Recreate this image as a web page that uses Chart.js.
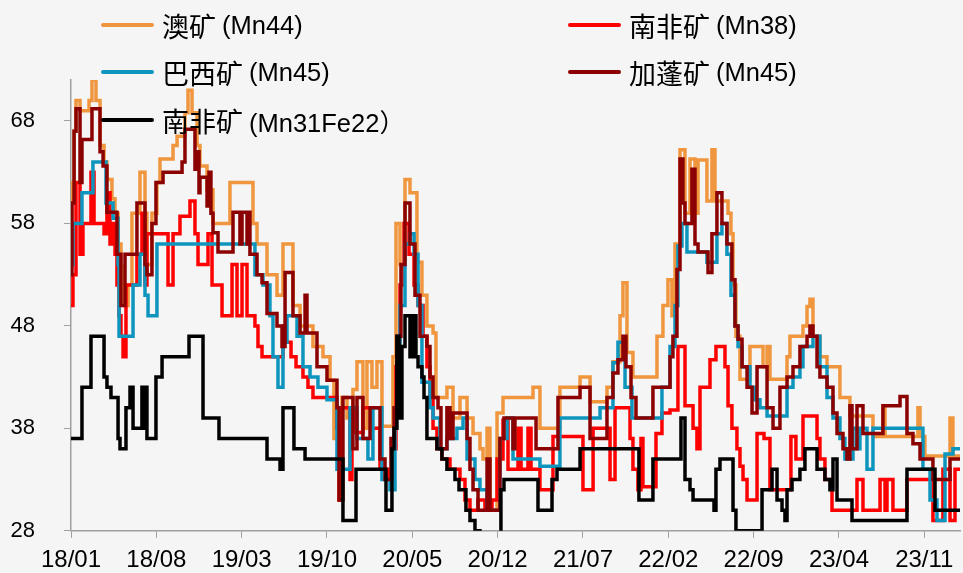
<!DOCTYPE html>
<html>
<head>
<meta charset="utf-8">
<script src="https://cdn.jsdelivr.net/npm/chart.js@4.4.1/dist/chart.umd.min.js"></script>
<style>
    html, body { margin: 0; padding: 0; background: #f5f5f5; }
    #wrap { position: relative; width: 963px; height: 573px; }
    #legend .item {
        position: absolute;
        display: flex;
        align-items: center;
        height: 32px;
        color: #000;
        white-space: nowrap;
    }
    #legend .swatch { width: 53px; height: 4px; border-radius: 2px; margin-right: 8px; }
    #legend .name { font-family: 'Noto Sans CJK SC', sans-serif; font-size: 27px; margin-right: 6px; }
    #legend .spec { font-family: 'Liberation Sans', 'Noto Sans CJK SC', sans-serif; font-size: 25.5px; }
</style>
</head>
<body>
<div id="wrap">
    <canvas id="priceChart" width="963" height="573"></canvas>
    <div id="legend"></div>
</div>
<script>
// x values are months since Jan 2018, each pair = [month, price] where the price changes
const X_MAX = 72.93;
const xTickLabels = ['18/01', '18/08', '19/03', '19/10', '20/05', '20/12', '21/07', '22/02', '22/09', '23/04', '23/11'];
const yTicks = [28, 38, 48, 58, 68];

const seriesNames = ['澳矿(Mn44)', '南非矿(Mn38)', '巴西矿(Mn45)', '加蓬矿(Mn45)', '南非矿(Mn31Fe22）'];
const seriesColors = ['#F0963E', '#FF0000', '#0E95BD', '#8B0000', '#000000'];

const ausSteps = [
    [0, 56], [0.08, 62], [0.25, 67], [0.41, 70], [0.74, 69], [1.48, 70], [1.72, 72], [2.05, 70], [2.38, 65.6], [2.71, 64],
    [2.95, 62.3], [3.36, 60.4], [3.61, 59], [3.86, 56], [4.10, 53.8], [4.35, 50], [4.68, 52], [5.00, 59], [5.66, 63], [6.07, 59],
    [6.23, 54], [6.64, 59], [7.05, 62], [7.30, 64.3], [8.37, 65.6], [8.70, 66.5], [9.35, 68.8], [9.60, 71], [9.93, 68.8], [10.34, 65.6],
    [10.58, 63.6], [11.16, 61.3], [11.65, 58], [13.04, 62], [14.93, 58], [15.26, 56], [16.08, 53], [16.90, 51], [17.39, 56], [18.21, 50],
    [18.79, 48], [19.85, 46], [20.67, 45], [21.25, 42.7], [21.57, 37], [21.90, 35], [22.23, 41], [22.64, 39], [23.13, 41.8], [23.46, 44.5],
    [23.95, 38], [24.28, 44.5], [24.69, 42], [25.10, 44.5], [25.51, 38.2], [26.41, 45], [26.66, 58], [26.99, 54], [27.40, 62.3], [27.81, 61],
    [28.38, 54.2], [28.79, 51], [29.20, 48], [29.70, 47.3], [29.94, 41], [30.84, 42], [31.34, 39], [31.91, 41], [32.49, 39], [32.98, 37.5],
    [33.55, 36], [33.80, 35], [34.13, 38], [34.37, 30], [34.95, 39.5], [35.44, 41], [37.90, 42], [38.47, 38], [40.11, 42], [41.76, 43],
    [42.58, 40.6], [43.97, 42], [44.46, 44.5], [45.04, 49], [45.28, 52.2], [45.61, 45.4], [46.10, 43], [48.07, 47], [48.56, 50], [48.97, 52.5],
    [49.30, 49], [49.55, 56], [49.96, 65.2], [50.37, 59], [50.78, 64.3], [51.19, 59], [51.44, 64.2], [52.17, 60.2], [52.58, 65.2], [52.83, 60.2],
    [53.90, 59], [54.14, 57], [54.31, 52], [54.55, 47], [54.88, 42.8], [55.70, 46], [56.77, 44], [57.10, 46], [57.34, 42.8], [58.74, 45],
    [58.98, 47], [60.05, 48], [60.38, 49.9], [60.62, 50.6], [60.87, 47], [61.44, 45], [62.02, 44], [63.08, 41], [63.90, 39.2],
    [65.79, 37.2], [66.61, 40.2], [66.78, 37.2], [69.48, 40], [69.65, 37.2], [70.05, 35.3], [72.11, 39], [72.35, 35.3]
];

const sa38Steps = [
    [0, 50], [0.16, 53], [0.41, 62], [0.74, 55], [0.98, 58], [1.64, 63], [1.89, 58], [2.71, 57], [2.95, 61], [3.20, 56],
    [3.45, 58], [3.61, 55], [3.77, 52], [3.94, 49], [4.10, 47], [4.27, 45], [4.51, 52], [5.41, 55], [5.82, 59], [6.07, 52],
    [6.23, 57], [7.96, 52], [8.37, 57], [8.94, 58.7], [9.76, 60.2], [10.17, 57], [10.42, 54], [11.24, 57], [11.57, 52], [12.39, 49],
    [13.21, 54], [13.62, 49], [14.03, 54], [14.44, 49], [15.09, 48], [15.34, 46], [15.67, 45], [17.39, 48], [17.64, 46.4], [18.05, 45],
    [18.46, 44], [19.03, 43], [19.44, 42], [19.85, 41], [21.82, 38], [21.99, 31], [22.23, 40], [22.89, 33], [23.05, 40], [23.30, 37.6],
    [23.95, 40], [24.69, 38], [25.35, 34], [26.00, 33], [26.41, 36], [26.66, 44], [26.99, 52], [27.32, 58], [27.73, 55], [28.14, 52],
    [28.47, 50], [28.88, 47], [29.20, 44], [29.45, 41], [29.70, 38], [30.02, 36], [30.43, 35], [31.09, 34], [31.91, 33], [32.32, 31],
    [32.73, 30], [33.39, 31], [33.96, 30], [34.54, 31], [34.95, 35], [35.44, 38.8], [35.85, 34], [36.67, 38], [36.92, 34], [37.49, 38],
    [37.74, 34], [38.47, 32], [39.54, 37.2], [42.00, 32], [42.83, 38], [44.22, 33], [44.63, 40], [45.86, 37], [46.10, 34], [46.51, 32],
    [46.76, 37], [46.92, 32.3], [47.99, 37.5], [48.48, 39.5], [49.14, 39.8], [49.79, 46], [50.37, 40.2], [51.03, 38], [51.35, 36], [51.60, 42],
    [52.42, 44.7], [52.91, 46], [53.65, 44], [53.90, 40.2], [54.22, 38], [54.63, 36], [54.88, 34.3], [55.13, 33], [55.46, 31], [56.28, 37.5],
    [56.85, 37], [57.34, 32], [59.06, 37.2], [59.47, 35], [60.05, 39.2], [61.20, 37], [61.44, 35], [61.85, 33], [62.43, 30], [64.48, 33],
    [64.97, 30], [66.37, 33], [66.78, 30], [66.94, 33], [67.43, 30], [68.58, 33], [70.71, 29], [71.53, 34], [72.11, 29], [72.52, 34]
];

const brSteps = [
    [0, 54], [0.16, 58], [0.90, 61], [1.80, 64], [2.87, 60], [3.45, 58.5], [3.86, 54], [3.94, 47], [5.09, 52], [5.66, 55],
    [6.07, 51], [6.32, 49], [7.05, 56], [15.09, 53], [15.75, 52], [16.32, 49], [16.57, 45], [16.98, 42], [17.39, 46.4], [17.72, 49],
    [18.54, 47], [19.03, 44], [19.61, 43], [20.26, 42], [21.00, 40.8], [21.82, 34], [22.89, 40], [23.46, 37], [24.36, 35], [24.77, 40],
    [25.51, 33], [26.17, 32], [26.58, 40], [26.99, 50], [27.40, 56], [27.81, 57], [28.14, 55], [28.47, 50], [28.79, 42.5], [29.45, 40],
    [29.70, 39], [30.27, 36], [30.84, 37], [31.66, 38], [32.16, 39], [32.49, 35], [33.14, 33], [33.55, 32], [34.13, 30], [35.19, 37],
    [35.77, 39], [36.26, 35], [38.47, 34.3], [40.11, 39], [43.40, 40], [44.46, 44.4], [44.87, 46.4], [45.45, 42], [46.02, 39], [48.48, 42],
    [49.14, 46], [49.55, 50], [49.79, 55.8], [50.12, 58], [50.53, 55.2], [52.17, 54.2], [52.99, 57], [53.40, 58], [53.81, 55], [54.14, 51],
    [54.47, 48], [54.72, 46], [55.05, 44], [55.70, 42], [56.11, 40.8], [56.52, 40], [57.10, 39.2], [58.74, 42], [59.23, 43], [59.80, 44],
    [60.05, 46], [60.87, 47], [61.44, 44], [62.02, 41], [62.51, 39], [63.08, 37], [63.49, 35], [64.15, 38], [64.48, 36], [64.72, 38],
    [65.30, 34], [65.79, 38], [69.89, 34], [70.47, 31], [71.04, 29], [71.70, 35.5], [72.35, 36]
];

const gaSteps = [
    [0, 53], [0.08, 60], [0.25, 67], [0.41, 69.2], [0.74, 62], [0.90, 66.2], [1.72, 69.2], [2.38, 65], [2.63, 63.6], [2.95, 59.1],
    [3.77, 55], [4.10, 50], [4.43, 55], [5.41, 60], [6.07, 54], [6.23, 53], [6.64, 58], [6.97, 62], [7.55, 63], [9.11, 64],
    [9.35, 67.2], [10.17, 63.3], [10.34, 65], [10.50, 61], [10.58, 62.5], [11.16, 59.7], [11.32, 63], [11.48, 59], [11.65, 57.1], [12.06, 55.2],
    [13.29, 59.1], [13.86, 56], [14.03, 59.1], [14.44, 56], [14.52, 59.1], [14.68, 55], [15.26, 53], [15.67, 52.2], [16.08, 49.2], [16.90, 48],
    [17.31, 46], [17.56, 53.2], [18.21, 49], [18.79, 47.3], [19.20, 51], [19.36, 47.3], [20.18, 44], [21.00, 42.7], [21.82, 40], [21.99, 31],
    [22.31, 41], [23.13, 36], [23.46, 41], [23.95, 37], [24.53, 40], [25.35, 35], [25.76, 33], [26.25, 37], [26.50, 40], [26.74, 47],
    [27.07, 54], [27.40, 60], [27.81, 56], [28.22, 51], [28.63, 47], [29.20, 46], [29.45, 43], [29.70, 41], [30.11, 40], [30.35, 36],
    [30.84, 40], [31.09, 37], [31.34, 39.5], [32.49, 37], [32.73, 34], [32.98, 32], [33.39, 30], [34.13, 35], [34.37, 30], [35.19, 37],
    [35.52, 39], [36.26, 36], [36.42, 39], [38.15, 36], [39.95, 41], [41.76, 42], [42.58, 37], [43.97, 41], [44.46, 43.4], [44.87, 44.7],
    [45.28, 47], [45.53, 44], [45.94, 41], [46.35, 39], [47.74, 42], [49.14, 45], [49.38, 47], [49.71, 53.5], [49.96, 64.3], [50.20, 60],
    [50.37, 58], [50.94, 63.3], [51.19, 56], [51.44, 55.2], [52.26, 53.2], [52.58, 57], [52.99, 61], [53.40, 58], [53.81, 56], [54.22, 52.5],
    [54.47, 48], [54.72, 46.7], [55.05, 44], [55.46, 42], [55.87, 39.5], [56.28, 44], [57.10, 40], [57.59, 38], [58.16, 42], [58.74, 43],
    [59.23, 44], [59.80, 46], [60.38, 47], [60.62, 48], [60.87, 47], [61.20, 44], [61.44, 43], [62.02, 42], [62.51, 39.5], [62.84, 37.5],
    [63.33, 36], [63.66, 35], [63.90, 40.2], [64.07, 36], [64.48, 40.2], [64.97, 37.5], [66.61, 40.2], [68.01, 41.1], [68.58, 37.5], [69.07, 36.5],
    [69.65, 35], [70.71, 33], [72.11, 35]
];

const sa31Steps = [
    [0, 37], [0.90, 42], [1.64, 47], [2.71, 43], [2.95, 42], [3.28, 41], [3.86, 37], [4.02, 36], [4.51, 40], [4.84, 42],
    [5.09, 38], [5.82, 42], [5.99, 38], [6.15, 42], [6.23, 37], [6.97, 43], [7.47, 45], [9.68, 47], [10.83, 39], [12.14, 37],
    [16.08, 35], [17.15, 34], [17.39, 40], [18.29, 36], [19.20, 35], [22.31, 29], [23.38, 34], [25.84, 30], [26.33, 36], [26.50, 38],
    [26.74, 47], [26.91, 39], [27.15, 46], [27.40, 49], [27.81, 45], [28.06, 49], [28.30, 45], [28.47, 44], [28.79, 43], [28.96, 41],
    [29.20, 37], [30.02, 36], [30.43, 35], [30.84, 34], [31.50, 33], [31.83, 32], [32.40, 30], [32.73, 29], [33.14, 28], [33.55, 26],
    [35.27, 32], [35.52, 33], [38.31, 30], [39.46, 33], [39.87, 34], [41.76, 36], [46.59, 31], [47.74, 35], [50.04, 39], [50.37, 33],
    [50.78, 32], [51.03, 31], [52.75, 30], [52.91, 34], [53.24, 35], [54.31, 30], [54.55, 28], [56.69, 32], [57.51, 34], [57.92, 31],
    [58.33, 30], [58.57, 29], [58.74, 32], [59.15, 33], [59.80, 34], [60.21, 36], [61.20, 34], [61.85, 33], [62.26, 32], [62.51, 35],
    [62.84, 31], [64.07, 29], [68.58, 34], [70.88, 30]
];

const allSteps = [ausSteps, sa38Steps, brSteps, gaSteps, sa31Steps];

// legend slots: two columns, the way the original lays them out
const legendSlots = [
    { left: 101, mid: 25 }, { left: 568, mid: 25 },
    { left: 101, mid: 72 }, { left: 568, mid: 72 },
    { left: 101, mid: 120 }
];

function toPoints(steps) {
    const pts = steps.map(s => ({ x: s[0], y: s[1] }));
    pts.push({ x: X_MAX, y: steps[steps.length - 1][1] });
    return pts;
}

function labelToMonth(label) {
    const parts = label.split('/');
    return (parseInt(parts[0], 10) - 18) * 12 + parseInt(parts[1], 10) - 1;
}

const xTickMonths = xTickLabels.map(labelToMonth);

const datasets = allSteps.map((steps, i) => ({
    label: seriesNames[i],
    data: toPoints(steps),
    borderColor: seriesColors[i],
    backgroundColor: seriesColors[i],
    borderWidth: 3.5,
    pointRadius: 0,
    stepped: true,
    fill: false,
    order: allSteps.length - i // later series drawn on top
}));

const axisGrey = '#a0a0a0';

const chart = new Chart(document.getElementById('priceChart'), {
    type: 'line',
    data: { datasets },
    options: {
        responsive: false,
        animation: false,
        devicePixelRatio: 1,
        layout: { padding: { top: 80, right: 3, left: 0, bottom: 0 } },
        plugins: {
            legend: { display: false },
            tooltip: { enabled: false }
        },
        scales: {
            x: {
                type: 'linear',
                min: 0,
                max: X_MAX,
                afterBuildTicks: scale => { scale.ticks = xTickMonths.map(v => ({ value: v })); },
                afterFit: scale => { scale.height = 42; },
                ticks: {
                    autoSkip: false,
                    maxRotation: 0,
                    padding: 8,
                    color: '#000',
                    font: { family: 'Liberation Sans', size: 24 },
                    callback: value => {
                        const idx = xTickMonths.indexOf(value);
                        return idx >= 0 ? xTickLabels[idx] : '';
                    }
                },
                grid: { display: true, drawOnChartArea: false, drawTicks: true, tickLength: 7, color: axisGrey },
                border: { display: true, color: axisGrey, width: 1.5 }
            },
            y: {
                min: 28,
                max: 72,
                afterBuildTicks: scale => { scale.ticks = yTicks.map(v => ({ value: v })); },
                afterFit: scale => { scale.width = 71; },
                ticks: {
                    padding: 29,
                    color: '#000',
                    font: { family: 'Liberation Sans', size: 22 }
                },
                grid: { display: true, drawOnChartArea: false, drawTicks: true, tickLength: 7, color: axisGrey },
                border: { display: true, color: axisGrey, width: 1.5 }
            }
        }
    }
});

// html legend built from the chart's datasets; ore name and grade set in their own fonts
const legendBox = document.getElementById('legend');
chart.data.datasets.forEach((ds, i) => {
    const slot = legendSlots[i];
    const cut = ds.label.indexOf('(');
    const item = document.createElement('div');
    item.className = 'item';
    item.style.left = slot.left + 'px';
    item.style.top = (slot.mid - 16) + 'px';
    const swatch = document.createElement('span');
    swatch.className = 'swatch';
    swatch.style.background = ds.borderColor;
    const name = document.createElement('span');
    name.className = 'name';
    name.textContent = ds.label.slice(0, cut);
    const spec = document.createElement('span');
    spec.className = 'spec';
    spec.textContent = ds.label.slice(cut);
    item.appendChild(swatch);
    item.appendChild(name);
    item.appendChild(spec);
    legendBox.appendChild(item);
});
</script>
</body>
</html>
